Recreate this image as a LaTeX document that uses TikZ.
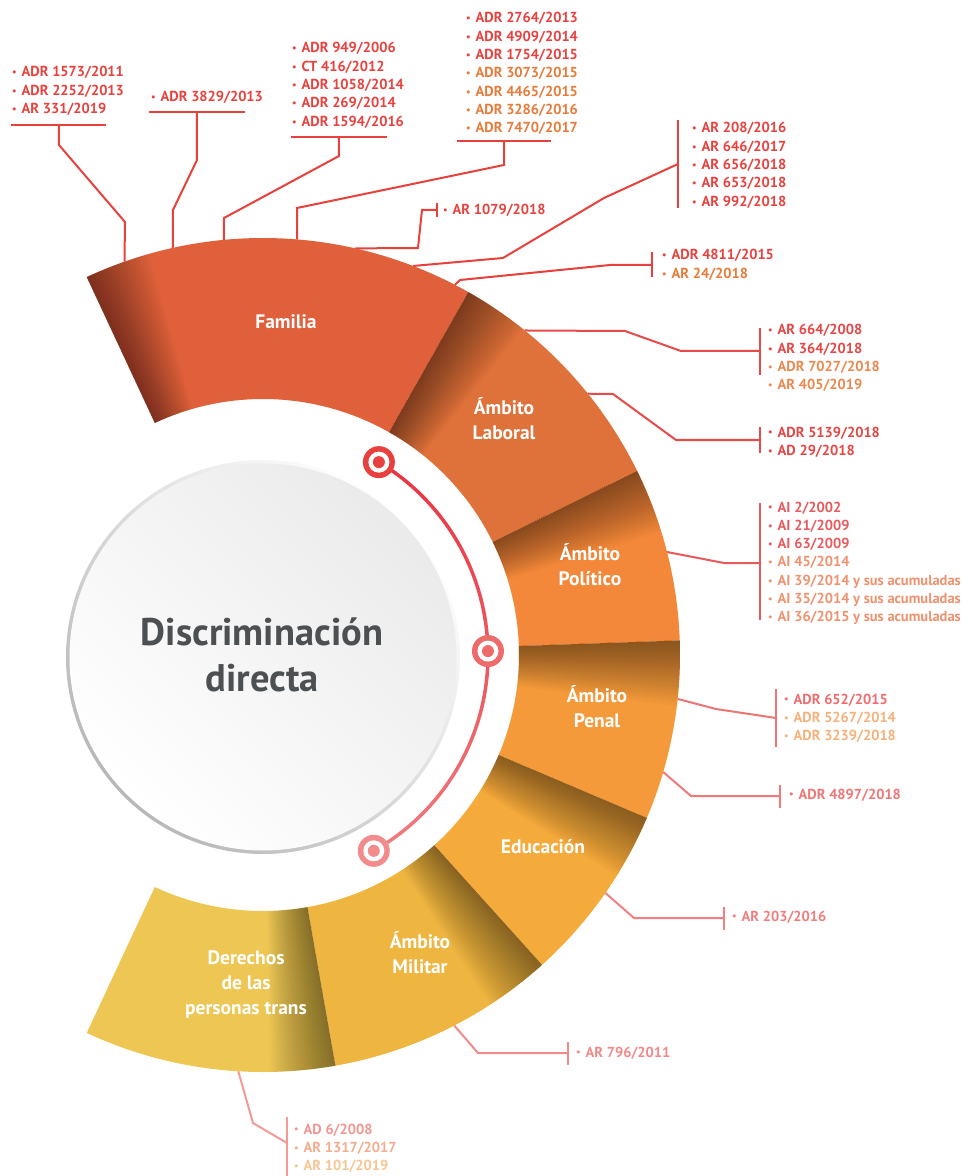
\documentclass[tikz,border=0pt]{standalone}
\usepackage{fontspec}
\setmainfont{PT Sans}
\usetikzlibrary{positioning}

% ring colours
\definecolor{famC}{HTML}{E0603C}
\definecolor{labC}{HTML}{DF713A}
\definecolor{polC}{HTML}{F3883A}
\definecolor{penC}{HTML}{F59A3B}
\definecolor{eduC}{HTML}{F5AA3C}
\definecolor{milC}{HTML}{EFB541}
\definecolor{derC}{HTML}{EDC654}
% text and connector colours
\definecolor{cR}{HTML}{E8423F}
\definecolor{cO}{HTML}{E67B3A}
\definecolor{cLa}{HTML}{E54747}
\definecolor{cLb}{HTML}{E9894F}
\definecolor{cPa}{HTML}{E95A5E}
\definecolor{cPb}{HTML}{EE9270}
\definecolor{cNa}{HTML}{EE6C6F}
\definecolor{cNb}{HTML}{F6B17B}
\definecolor{cN2}{HTML}{EF7676}
\definecolor{cE}{HTML}{F07E7E}
\definecolor{cM}{HTML}{F1898A}
\definecolor{cTa}{HTML}{F29591}
\definecolor{cTb}{HTML}{F4AC8F}
\definecolor{cTc}{HTML}{F8C590}
\definecolor{lkA}{HTML}{E8413C}
\definecolor{lkB}{HTML}{E84A4A}
\definecolor{lkC}{HTML}{EA5A5C}
\definecolor{lkD}{HTML}{EF7475}
\definecolor{lkE}{HTML}{F07A7A}
\definecolor{lkF}{HTML}{F18080}
\definecolor{lkG}{HTML}{F28A8A}
\definecolor{lkH}{HTML}{F39A95}
\definecolor{trkA}{HTML}{E8323F}
\definecolor{trkB}{HTML}{F07C80}
\definecolor{mkA}{HTML}{E8403F}
\definecolor{mkB}{HTML}{EE6B6B}
\definecolor{mkC}{HTML}{F28C8C}
\definecolor{titleC}{HTML}{4D5052}

\newcommand{\rin}{256pt}
\newcommand{\rout}{417pt}
% one part of the ring, with its shadow on the start side
\newcommand{\ringpart}[3]{%
  \fill[#3] (#1:\rin) arc[start angle=#1, end angle=#2, radius=\rin]
    -- (#2:\rout) arc[start angle=#2, end angle=#1, radius=\rout] -- cycle;
  \foreach \k in {1,...,25}{%
    \pgfmathsetmacro{\ang}{#1-0.36*\k}
    \fill[black, opacity=0.019] (#1:\rin) arc[start angle=#1, end angle=\ang, radius=\rin]
      -- (\ang:\rout) arc[start angle=\ang, end angle=#1, radius=\rout] -- cycle;
  }%
}
\newcommand{\itm}[2]{\textcolor{#1}{\raisebox{1.1pt}{\fontsize{10}{10}\selectfont\textbullet}\hspace{5pt}#2}}

\tikzset{
  lst/.style={font=\fontsize{14.5}{18.3}\selectfont\bfseries, align=left, inner sep=0pt, anchor=base west},
  link/.style={line width=2pt},
  bar/.style={line width=2.5pt},
  seglabel/.style={text=white, font=\fontsize{19.5}{25}\selectfont\bfseries, align=center},
  track/.style={line width=3.5pt}
}

\begin{document}
\begin{tikzpicture}[x=1pt,y=1pt]
  \useasboundingbox (-263,-521) rectangle (708,655);

  % Attach points on the outer arc
  \coordinate (a1) at (109.4:\rout);
  \coordinate (a2) at (102.5:\rout);
  \coordinate (a3) at (95.4:\rout);
  \coordinate (a4) at (85.3:\rout);
  \coordinate (a5) at (77.2:\rout);
  \coordinate (a6) at (68.9:\rout);
  \coordinate (a7) at (62.6:\rout);
  \coordinate (a8) at (51.1:\rout);
  \coordinate (a9) at (38.8:\rout);
  \coordinate (a10) at (14.3:\rout);
  \coordinate (a11) at (-6.05:\rout);
  \coordinate (a12) at (-16.3:\rout);
  \coordinate (a13) at (-34.8:\rout);
  \coordinate (a14) at (-62.7:\rout);
  \coordinate (a15) at (-93.4:\rout);

  % Lists of cases (placed by the baseline of their last line)
  \node[lst] (L1) at (-251,541.4) {\itm{cR}{ADR 1573/2011}\\\itm{cR}{ADR 2252/2013}\\\itm{cR}{AR 331/2019}};
  \node[lst] (L2) at (-112,553) {\itm{cR}{ADR 3829/2013}};
  \node[lst] (L3) at (29,528.8) {\itm{cR}{ADR 949/2006}\\\itm{cR}{CT 416/2012}\\\itm{cR}{ADR 1058/2014}\\\itm{cR}{ADR 269/2014}\\\itm{cR}{ADR 1594/2016}};
  \node[lst] (L4) at (203,522.2) {\itm{cR}{ADR 2764/2013}\\\itm{cR}{ADR 4909/2014}\\\itm{cR}{ADR 1754/2015}\\\itm{cO}{ADR 3073/2015}\\\itm{cO}{ADR 4465/2015}\\\itm{cO}{ADR 3286/2016}\\\itm{cO}{ADR 7470/2017}};
  \node[lst] (L5) at (180,440) {\itm{cR}{AR 1079/2018}};
  \node[lst] (L6) at (429,448.8) {\itm{cR}{AR 208/2016}\\\itm{cR}{AR 646/2017}\\\itm{cR}{AR 656/2018}\\\itm{cR}{AR 653/2018}\\\itm{cR}{AR 992/2018}};
  \node[lst] (L7) at (399,376.7) {\itm{cR}{ADR 4811/2015}\\\itm{cO}{AR 24/2018}};
  \node[lst] (L8) at (505,265.1) {\itm{cLa}{AR 664/2008}\\\itm{cLa}{AR 364/2018}\\\itm{cLb}{ADR 7027/2018}\\\itm{cLb}{AR 405/2019}};
  \node[lst] (L9) at (505,199.7) {\itm{cLa}{ADR 5139/2018}\\\itm{cLa}{AD 29/2018}};
  \node[lst] (L10) at (505,33.2) {\itm{cPa}{AI 2/2002}\\\itm{cPa}{AI 21/2009}\\\itm{cPa}{AI 63/2009}\\\itm{cPb}{AI 45/2014}\\\itm{cPb}{AI 39/2014 y sus acumuladas}\\\itm{cPb}{AI 35/2014 y sus acumuladas}\\\itm{cPb}{AI 36/2015 y sus acumuladas}};
  \node[lst] (L11) at (521,-85.6) {\itm{cNa}{ADR 652/2015}\\\itm{cNb}{ADR 5267/2014}\\\itm{cNb}{ADR 3239/2018}};
  \node[lst] (L12) at (526,-144) {\itm{cN2}{ADR 4897/2018}};
  \node[lst] (L13) at (469,-266) {\itm{cE}{AR 203/2016}};
  \node[lst] (L14) at (313,-402) {\itm{cM}{AR 796/2011}};
  \node[lst] (L15) at (31,-515.6) {\itm{cTa}{AD 6/2008}\\\itm{cTb}{AR 1317/2017}\\\itm{cTc}{AR 101/2019}};

  % Underlines (top lists)
  \draw[bar, lkA] (-252,530) -- (-157,530);
  \draw[bar, lkA] (-114,543) -- (-18,543);
  \draw[bar, lkA] (28,518) -- (124,518);
  \draw[bar, lkA] (194,514) -- (288,514);
  \coordinate (u1) at (-204,530);
  \coordinate (u2) at (-66,543);
  \coordinate (u3) at (76,518);
  \coordinate (u4) at (241,514);

  % Bars (side lists)
  \draw[bar, lkA] (174,452) -- (174,438);
  \draw[bar, lkA] (415,535) -- (415,447);
  \draw[bar, lkA] (389,403) -- (389,378);
  \draw[bar, lkB] (497,327) -- (497,280);
  \draw[bar, lkB] (497,228) -- (497,202);
  \draw[bar, lkC] (497,152) -- (497,35);
  \draw[bar, lkD] (513,-34) -- (513,-92);
  \draw[bar, lkE] (517,-130) -- (517,-153);
  \draw[bar, lkF] (461,-252) -- (461,-275);
  \draw[bar, lkG] (305,-387) -- (305,-410);
  \draw[bar, lkH] (24,-462) -- (24,-521);
  \coordinate (b5) at (174,445);
  \coordinate (b6) at (415,491);
  \coordinate (b7) at (389,390);
  \coordinate (b8) at (497,304);
  \coordinate (b9) at (497,215);
  \coordinate (b10) at (497,92);
  \coordinate (b11) at (513,-63);
  \coordinate (b12) at (517,-141);
  \coordinate (b13) at (461,-263);
  \coordinate (b14) at (305,-398);
  \coordinate (b15) at (24,-488);

  % Connectors
  \draw[link, lkA] (u1) -- (-204,510) -- (-138,433) -- (a1);
  \draw[link, lkA] (u2) -- (-66,495) -- (-90,445) -- (a2);
  \draw[link, lkA] (u3) -- (76,499) -- (-39,437) -- (a3);
  \draw[link, lkA] (u4) -- (241,490) -- (34,447) -- (a4);
  \draw[link, lkA] (b5) -- (159,445) -- (155,407) -- (a5);
  \draw[link, lkA] (b6) -- (341,457) -- (240,397) -- (a6);
  \draw[link, lkA] (b7) -- (347,390) -- (197,375) -- (a7);
  \draw[link, lkB] (b8) -- (418,304) -- (362,324) -- (a8);
  \draw[link, lkB] (b9) -- (413,215) -- (350,261) -- (a9);
  \draw[link, lkC] (b10) -- (461,92) -- (a10);
  \draw[link, lkD] (b11) -- (453,-54) -- (a11);
  \draw[link, lkE] (b12) -- (428,-141) -- (a12);
  \draw[link, lkF] (b13) -- (371,-263) -- (a13);
  \draw[link, lkG] (b14) -- (215,-398) -- (a14);
  \draw[link, lkH] (b15) -- (-10,-468) -- (a15);

  % Ring
  \ringpart{115}{60.5}{famC}
  \ringpart{60.5}{26.2}{labC}
  \ringpart{26.2}{2}{polC}
  \ringpart{2}{-23}{penC}
  \ringpart{-23}{-48}{eduC}
  \ringpart{-48}{-80}{milC}
  \ringpart{-80}{-115}{derC}

  \node[seglabel] (fam) at (23,333) {Familia};
  \node[seglabel] (lab) at (241,236) {Ámbito\\Laboral};
  \node[seglabel] (pol) at (327,90) {Ámbito\\Político};
  \node[seglabel] (pen) at (334,-52) {Ámbito\\Penal};
  \node[seglabel] (edu) at (280,-192) {Educación};
  \node[seglabel] (mil) at (157,-298) {Ámbito\\Militar};
  \node[seglabel] (der) at (-17,-330) {Derechos\\de las\\personas trans};

  % Centre disc
  \shade[top color=white, bottom color=black!28, shading angle=-45] (0,-2) circle (197pt);
  \shade[top color=black!8, bottom color=white, shading angle=-45] (0,-2) circle (193.5pt);
  \node[font=\fontsize{38.5}{46}\selectfont\bfseries, text=titleC, align=center] (title) at (-1,0) {Discriminación\\directa};

  % Track with markers
  \foreach \k in {0,...,23}{
    \pgfmathsetmacro{\aS}{59-\k*4.979}
    \pgfmathsetmacro{\aE}{\aS-5.1}
    \pgfmathtruncatemacro{\p}{100-\k*100/23}
    \draw[track, trkA!\p!trkB] (\aS:225pt) arc[start angle=\aS, end angle=\aE, radius=225pt];
  }
  \foreach \a/\c [count=\i] in {59/mkA, 1/mkB, -60.5/mkC}{
    \coordinate (m\i) at (\a:225pt);
    \fill[\c] (m\i) circle (16pt);
    \fill[white] (m\i) circle (10.5pt);
    \fill[\c] (m\i) circle (6pt);
  }
\end{tikzpicture}
\end{document}
